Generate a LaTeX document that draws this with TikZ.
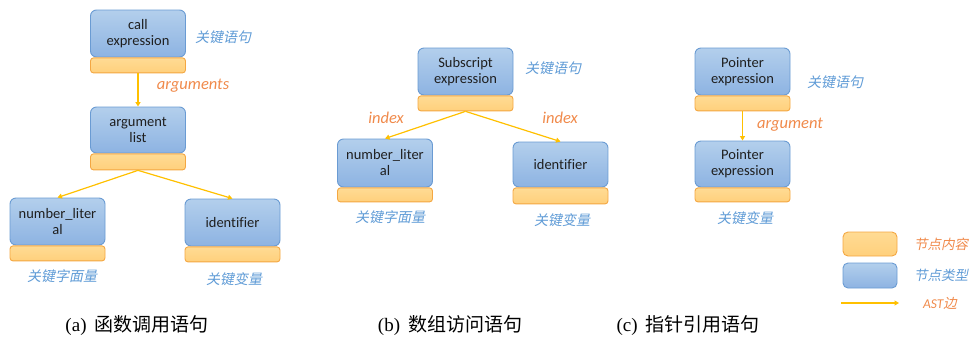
\documentclass[tikz,border=0pt]{standalone}
\usepackage{fontspec}
\setmainfont{Liberation Serif}
\newfontfamily\boxfont[Ligatures=NoCommon]{Carlito}
\newfontfamily\cjk{Noto Sans CJK SC}
\newfontfamily\cjkit[FakeSlant=0.2]{Noto Sans CJK SC}
\usetikzlibrary{arrows.meta}
\definecolor{blueTop}{HTML}{B3CFEC}
\definecolor{blueBot}{HTML}{8DB3E2}
\definecolor{blueEdge}{HTML}{6A9BD3}
\definecolor{orTop}{HTML}{FFDB94}
\definecolor{orBot}{HTML}{FFD07C}
\definecolor{orEdge}{HTML}{F4A742}
\definecolor{astArrow}{HTML}{FFC000}
\definecolor{lblBlue}{HTML}{5F9BD6}
\definecolor{lblOrange}{HTML}{F08A4B}
\begin{document}
\begin{tikzpicture}[x=1pt,y=-1pt,
  bluebox/.style={draw=blueEdge, line width=0.9pt, rounded corners=6pt, top color=blueTop, bottom color=blueBot,
    minimum width=95pt, minimum height=47pt, inner sep=1pt, align=center, font=\boxfont\fontsize{14.5}{16}\selectfont, text=black!88},
  orbar/.style={draw=orEdge, line width=0.9pt, rounded corners=3pt, top color=orTop, bottom color=orBot,
    minimum width=95pt, minimum height=15pt, inner sep=0pt, anchor=north},
  ast/.style={draw=astArrow, line width=1.2pt, -{Triangle[width=5pt,length=4.5pt]}},
  kwlbl/.style={text=lblBlue, font=\cjkit\fontsize{14}{16}\selectfont},
  edgelbl/.style={text=lblOrange, font=\boxfont\itshape\fontsize{16.5}{18}\selectfont},
  leglbl/.style={font=\cjkit\fontsize{13.5}{15}\selectfont},
  caption/.style={font=\fontsize{19}{22}\selectfont, text=black}
]
\useasboundingbox (0,0) rectangle (973,338);

% ---------- (a)
\node[bluebox] (ce) at (138,33.5) {call\\expression};
\node[orbar] (ceb) at (ce.south) {};
\node[bluebox, minimum height=46pt] (al) at (138,130) {argument\\list};
\node[orbar, minimum height=16pt] (alb) at (al.south) {};
\node[bluebox] (nl) at (57.5,221.5) {number\_liter\\al};
\node[orbar] (nlb) at (nl.south) {};
\node[bluebox] (id) at (232.5,222.5) {identifier};
\node[orbar] (idb) at (id.south) {};
\draw[ast] (ceb.south) -- (al.north);
\draw[ast] (alb.south) -- (nl.north);
\draw[ast] (alb.south) -- (id.north);
\node[kwlbl] (ka1) at (223,37) {关键语句};
\node[edgelbl] (ea1) at (193,86) {arguments};
\node[kwlbl] (ka2) at (62,276) {关键字面量};
\node[kwlbl] (ka3) at (234,279) {关键变量};
\node[caption] (capa) at (137,326) {(a)\, {\cjk 函数调用语句}};

% ---------- (b)
\node[bluebox] (se) at (465.5,71.5) {Subscript\\expression};
\node[orbar] (seb) at (se.south) {};
\node[bluebox, minimum height=48pt] (nl2) at (385,163) {number\_liter\\al};
\node[orbar, minimum height=14pt] (nl2b) at (nl2.south) {};
\node[bluebox, minimum height=45pt] (id2) at (560.5,164.5) {identifier};
\node[orbar, minimum height=16pt] (id2b) at (id2.south) {};
\draw[ast] (seb.south) -- (nl2.north);
\draw[ast] (seb.south) -- (id2.north);
\node[kwlbl] (kb1) at (553,68) {关键语句};
\node[edgelbl] (eb1) at (386,118) {index};
\node[edgelbl] (eb2) at (560,118) {index};
\node[kwlbl] (kb2) at (390,217) {关键字面量};
\node[kwlbl] (kb3) at (562,220) {关键变量};
\node[caption] (capb) at (450,326) {(b)\, {\cjk 数组访问语句}};

% ---------- (c)
\node[bluebox] (pe1) at (742.5,71.5) {Pointer\\expression};
\node[orbar] (pe1b) at (pe1.south) {};
\node[bluebox, minimum height=46pt] (pe2) at (742.5,164) {Pointer\\expression};
\node[orbar, minimum height=14pt] (pe2b) at (pe2.south) {};
\draw[ast] (pe1b.south) -- (pe2.north);
\node[kwlbl] (kc1) at (835,82) {关键语句};
\node[edgelbl] (ec1) at (790,125) {argument};
\node[kwlbl] (kc2) at (745,218) {关键变量};
\node[caption] (capc) at (688,326) {(c)\, {\cjk 指针引用语句}};

% ---------- legend
\node[orbar, anchor=center, minimum width=54pt, minimum height=24pt, rounded corners=5pt] (lgo) at (870,244) {};
\node[leglbl, text=lblOrange] (lgot) at (941,244) {节点内容};
\node[bluebox, minimum width=54pt, minimum height=25pt, rounded corners=5pt] (lgb) at (870,275.5) {};
\node[leglbl, text=lblBlue] (lgbt) at (941,275) {节点类型};
\coordinate (lga1) at (841,303);
\coordinate (lga2) at (899,303);
\draw[ast] (lga1) -- (lga2);
\node[leglbl, text=lblOrange] (lgat) at (940,303) {{\boxfont\itshape AST}边};
\end{tikzpicture}
\end{document}
